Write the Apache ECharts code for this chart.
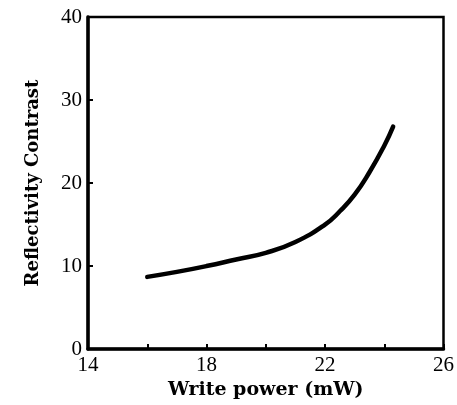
<!DOCTYPE html>
<html>
<head>
<meta charset="utf-8">
<script src="https://cdn.jsdelivr.net/npm/echarts@6/dist/echarts.min.js"></script>
<style>
  html, body { margin: 0; padding: 0; background: #fff; }
  #chart { width: 457px; height: 405px; }
</style>
</head>
<body>
<div id="chart"></div>
<script>
// write power (mW) and reflectivity contrast
const writePower = [16, 17, 18, 19, 20, 21, 22, 22.5, 23, 23.5, 24, 24.3];
const contrast = [8.7, 9.3, 10.0, 10.8, 11.6, 12.9, 15.0, 16.6, 18.6, 21.3, 24.5, 26.8];
const xLabels = [14, 18, 22, 26];

let chart = echarts.init(document.getElementById("chart"));
let font = "'Liberation Serif', 'DejaVu Serif', serif";
let titleFont = "'DejaVu Serif', 'Liberation Serif', serif";
let option = {
  backgroundColor: '#fff',
  animation: false,
  grid: {
    left: 88, right: 8, top: 17, bottom: 55,
    show: true,
    borderColor: '#000',
    borderWidth: 2.5
  },
  xAxis: {
    type: 'value',
    min: 14, max: 26, interval: 2,
    name: 'Write power (mW)',
    nameLocation: 'middle',
    nameGap: 30,
    nameTextStyle: { color: '#000', fontSize: 19, fontWeight: 'bold', fontFamily: titleFont },
    axisLine: { show: true, lineStyle: { color: '#000', width: 3.5 } },
    axisTick: { show: true, inside: true, length: 5, lineStyle: { color: '#000', width: 2 } },
    splitLine: { show: false },
    axisLabel: {
      color: '#000', fontSize: 21, fontFamily: font, margin: 6,
      formatter: v => xLabels.indexOf(v) >= 0 ? String(v) : ''
    }
  },
  yAxis: {
    type: 'value',
    min: 0, max: 40, interval: 10,
    name: 'Reflectivity Contrast',
    nameLocation: 'middle',
    nameGap: 46,
    nameTextStyle: { color: '#000', fontSize: 18, fontWeight: 'bold', fontFamily: titleFont },
    axisLine: { show: true, lineStyle: { color: '#000', width: 3.5 } },
    axisTick: { show: true, inside: true, length: 5, lineStyle: { color: '#000', width: 2 } },
    splitLine: { show: false },
    axisLabel: { color: '#000', fontSize: 21, fontFamily: font, margin: 6 }
  },
  series: [
    {
      type: 'line',
      smooth: true,
      symbol: 'none',
      data: writePower.map((x, i) => [x, contrast[i]]),
      lineStyle: { color: '#000', width: 4.5, cap: 'round' }
    }
  ]
};
chart.setOption(option);
</script>
</body>
</html>
